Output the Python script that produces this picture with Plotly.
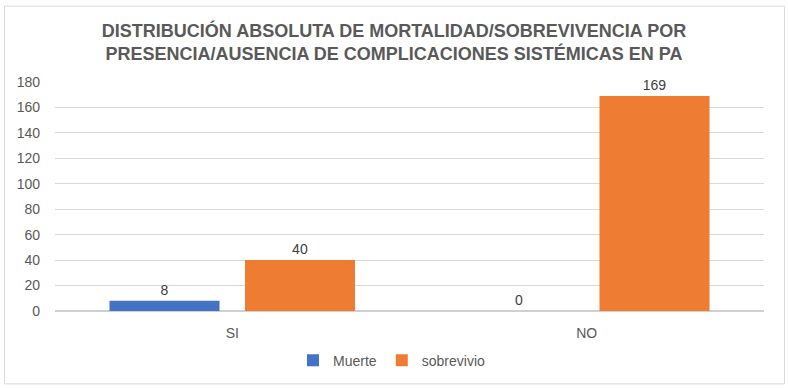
import plotly.graph_objects as go

categories = ["SI", "NO"]
muerte = [8, 0]
sobrevivio = [40, 169]
y_ticks = [0, 20, 40, 60, 80, 100, 120, 140, 160, 180]

W, H = 788, 388
ml, mr, mt, mb = 55, 24, 82, 75
pw, ph = W - ml - mr, H - mt - mb

fig = go.Figure()
fig.add_trace(go.Bar(
    name="Muerte", x=categories, y=muerte,
    marker=dict(color="#4472C4", line=dict(width=0)),
    text=[str(v) for v in muerte], textposition="outside",
    textfont=dict(size=14, color="#404040"), cliponaxis=False,
))
fig.add_trace(go.Bar(
    name="sobrevivio", x=categories, y=sobrevivio,
    marker=dict(color="#EE7D33", line=dict(width=0)),
    text=[str(v) for v in sobrevivio], textposition="outside",
    textfont=dict(size=14, color="#404040"), cliponaxis=False,
))

fig.update_layout(
    width=W, height=H,
    margin=dict(l=ml, r=mr, t=mt, b=mb),
    paper_bgcolor="white", plot_bgcolor="white",
    font=dict(family="Liberation Sans, Arial, sans-serif", color="#595959", size=14),
    title=dict(
        text="DISTRIBUCIÓN ABSOLUTA DE MORTALIDAD/SOBREVIVENCIA POR<br>PRESENCIA/AUSENCIA DE COMPLICACIONES SISTÉMICAS EN PA",
        x=0.5, xanchor="center", y=1 - 37 / H, yanchor="middle",
        font=dict(size=18, color="#595959", family="Liberation Sans, Arial, sans-serif", weight="bold"),
    ),
    barmode="group", bargap=0.2355, bargroupgap=0.188,
    showlegend=True,
    legend=dict(orientation="h", x=(392 - ml) / pw, xanchor="center", y=-(363 - 313) / ph, yanchor="middle",
                font=dict(size=14, color="#595959"), itemwidth=30, traceorder="normal"),
    xaxis=dict(showgrid=False, showline=False, ticks="", ticklabelstandoff=12,
               tickfont=dict(size=14, color="#595959")),
    yaxis=dict(range=[0, 180], tickvals=y_ticks, showgrid=True, gridcolor="#D9D9D9", gridwidth=1,
               zeroline=True, zerolinecolor="#D0D0D0", zerolinewidth=2,
               showline=False, ticks="", ticklabelstandoff=14,
               tickfont=dict(size=14, color="#595959")),
    shapes=[dict(type="rect", xref="paper", yref="paper",
                 x0=(4.5 - ml) / pw, x1=(784.5 - ml) / pw,
                 y0=(313 - 386.5) / ph, y1=(313 - 5.5) / ph,
                 line=dict(color="#D9D9D9", width=1), layer="above")],
)

fig.write_html("out.html", config={"displayModeBar": False},
               post_script="document.body.style.margin='0';document.body.style.overflow='hidden';")
